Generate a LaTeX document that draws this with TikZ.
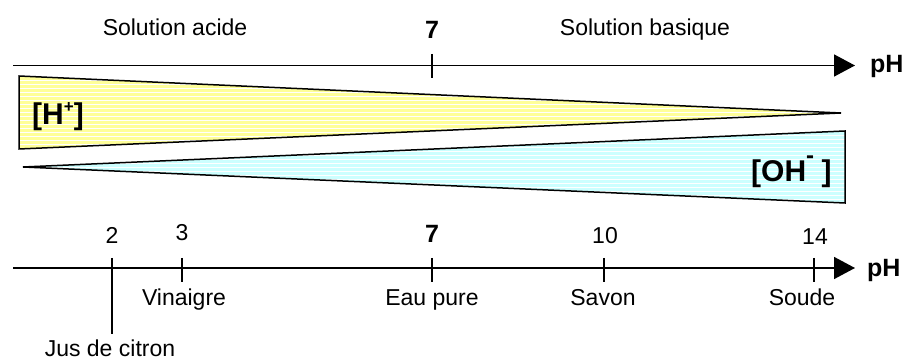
\documentclass[tikz,border=0pt]{standalone}
\usepackage{fontspec}
\setmainfont{Liberation Sans}
\usetikzlibrary{arrows.meta}
\definecolor{hyellow}{HTML}{FFFF99}
\definecolor{ohcyan}{HTML}{CCFFFF}
\tikzset{
  lbl/.style={anchor=base, inner sep=0pt, font=\fontsize{23}{27}\selectfont},
  blbl/.style={lbl, font=\fontsize{25}{29}\selectfont\bfseries},
  conc/.style={anchor=base west, inner sep=0pt, font=\fontsize{30}{34}\selectfont\bfseries},
  axis/.style={line width=1.6pt, -{Triangle[length=21pt,width=22pt]}},
  tick/.style={line width=1.6pt},
  wedge/.style={line width=1.5pt, line join=miter},
}
\newcommand{\sups}[3]{\raisebox{#1}{\fontsize{#2}{#2}\selectfont #3}}
\begin{document}
\begin{tikzpicture}[x=1pt,y=-1pt]
\useasboundingbox (0,0) rectangle (914,363);
% top axis
\coordinate (a1s) at (13,65.5);
\coordinate (a1e) at (855,65.5);
\draw[axis] (a1s) -- (a1e);
\node[blbl, anchor=base west] (ph1) at (870,73) {pH};
\coordinate (t7a) at (432,54);
\coordinate (t7b) at (432,78);
\draw[tick] (t7a) -- (t7b);
\node[blbl] (seven1) at (432,39) {7};
\node[lbl] (acide) at (175,36) {Solution acide};
\node[lbl] (basique) at (645,36) {Solution basique};
% H+ wedge
\coordinate (h1) at (19,76);
\coordinate (h2) at (841,113);
\coordinate (h3) at (19,149);
\begin{scope}
\clip (h1) -- (h2) -- (h3) -- cycle;
\fill[hyellow] (0,70) rectangle (900,155);
\foreach \yy in {72,76,...,152} \draw[white, line width=0.5pt] (0,\yy) -- (900,\yy);
\end{scope}
\draw[wedge] (h1) -- (h2) -- (h3) -- cycle;
\node[conc] (hplus) at (32,125) {[H\sups{0.42em}{17}{+}]};
% OH- wedge
\coordinate (o1) at (23,167);
\coordinate (o2) at (845,131);
\coordinate (o3) at (845,203);
\begin{scope}
\clip (o1) -- (o2) -- (o3) -- cycle;
\fill[ohcyan] (0,125) rectangle (900,210);
\foreach \yy in {127,131,...,207} \draw[white, line width=0.5pt] (0,\yy) -- (900,\yy);
\end{scope}
\draw[wedge] (o1) -- (o2) -- (o3) -- cycle;
\node[conc] (ohminus) at (751,182) {[OH\sups{0.62em}{24}{\bfseries -}\hspace{0.25em}]};
% bottom axis
\coordinate (a2s) at (13,268);
\coordinate (a2e) at (855,268);
\draw[axis] (a2s) -- (a2e);
\node[blbl, anchor=base west] (ph2) at (867,277) {pH};
% ticks
\coordinate (k2a) at (112,258); \coordinate (k2b) at (112,334);
\coordinate (k3a) at (182,258); \coordinate (k3b) at (182,282);
\coordinate (k7a) at (432,258); \coordinate (k7b) at (432,282);
\coordinate (k10a) at (604,258); \coordinate (k10b) at (604,282);
\coordinate (k14a) at (814,258); \coordinate (k14b) at (814,282);
\draw[tick] (k2a) -- (k2b);
\draw[tick] (k3a) -- (k3b);
\draw[tick] (k7a) -- (k7b);
\draw[tick] (k10a) -- (k10b);
\draw[tick] (k14a) -- (k14b);
\node[lbl] (n2) at (112,244) {2};
\node[lbl] (n3) at (182,241) {3};
\node[blbl] (n7) at (432,243) {7};
\node[lbl] (n10) at (605,244) {10};
\node[lbl] (n14) at (815,245) {14};
\node[lbl] (vin) at (184,306) {Vinaigre};
\node[lbl] (eau) at (432,306) {Eau pure};
\node[lbl] (sav) at (603,306) {Savon};
\node[lbl] (sou) at (802,306) {Soude};
\node[lbl] (jus) at (110,357) {Jus de citron};
\end{tikzpicture}
\end{document}
